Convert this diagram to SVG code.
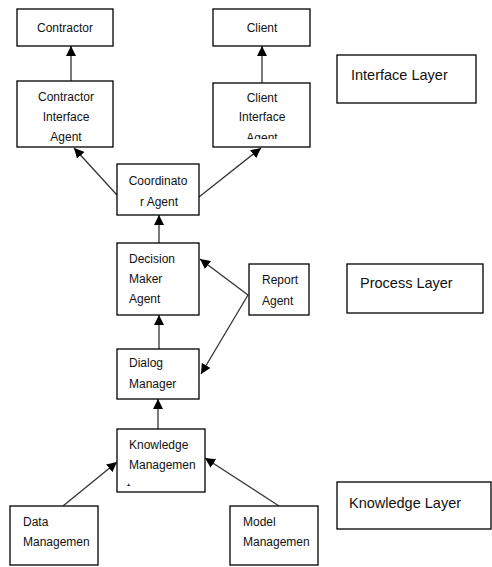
<svg xmlns="http://www.w3.org/2000/svg" width="492" height="567" viewBox="0 0 492 567">
  <style>
    .box { fill: #fff; stroke: #000; stroke-width: 1.3; }
    .t { font-family: "Liberation Sans", Arial, sans-serif; font-size: 12px; fill: #111; }
    .c { text-anchor: middle; }
    .layer { font-family: "Liberation Sans", Arial, sans-serif; font-size: 14.5px; fill: #111; }
    .edge { stroke: #333; stroke-width: 1.3; fill: none; marker-end: url(#arrow); }
  </style>
  <defs>
    <marker id="arrow" viewBox="0 0 10 10" refX="10" refY="5" markerWidth="10" markerHeight="10" markerUnits="userSpaceOnUse" orient="auto">
      <path d="M0,0 L10,5 L0,10 z" fill="#000"/>
    </marker>
    <clipPath id="clipClientIA"><rect x="213" y="83" width="97" height="56"/></clipPath>
    <clipPath id="clipKM"><rect x="117" y="429" width="88" height="57"/></clipPath>
  </defs>

  <rect width="492" height="567" fill="#fff"/>

  <!-- connectors -->
  <g id="connectors">
    <line class="edge" x1="71" y1="81" x2="71" y2="46"/>
    <line class="edge" x1="262" y1="83" x2="262" y2="46"/>
    <line class="edge" x1="117" y1="195" x2="74" y2="148"/>
    <line class="edge" x1="199" y1="197" x2="261" y2="148"/>
    <line class="edge" x1="159" y1="243" x2="159" y2="215"/>
    <line class="edge" x1="248" y1="295" x2="200" y2="259"/>
    <line class="edge" x1="248" y1="295" x2="201" y2="374"/>
    <line class="edge" x1="159" y1="349" x2="159" y2="315"/>
    <line class="edge" x1="158" y1="429" x2="158" y2="399"/>
    <line class="edge" x1="63" y1="506" x2="117" y2="462"/>
    <line class="edge" x1="279" y1="506" x2="205" y2="458"/>
  </g>

  <g id="contractor">
    <rect class="box" x="17" y="9" width="96" height="37"/>
    <text class="t c" x="65" y="32">Contractor</text>
  </g>

  <g id="client">
    <rect class="box" x="213" y="9" width="97" height="37"/>
    <text class="t c" x="262" y="32">Client</text>
  </g>

  <g id="contractor-interface-agent">
    <rect class="box" x="17" y="81" width="96" height="66"/>
    <text class="t c" x="66" y="101">Contractor</text>
    <text class="t c" x="66" y="121">Interface</text>
    <text class="t c" x="66" y="141">Agent</text>
  </g>

  <g id="client-interface-agent">
    <rect class="box" x="213" y="83" width="97" height="64"/>
    <g clip-path="url(#clipClientIA)">
      <text class="t c" x="262" y="102">Client</text>
      <text class="t c" x="262" y="121">Interface</text>
      <text class="t c" x="262" y="142">Agent</text>
    </g>
  </g>

  <g id="coordinator-agent">
    <rect class="box" x="117" y="164" width="82" height="51"/>
    <text class="t c" x="158" y="185">Coordinato</text>
    <text class="t c" x="159" y="206">r Agent</text>
  </g>

  <g id="decision-maker-agent">
    <rect class="box" x="117" y="243" width="82" height="72"/>
    <text class="t" x="129" y="263">Decision</text>
    <text class="t" x="129" y="283">Maker</text>
    <text class="t" x="129" y="303">Agent</text>
  </g>

  <g id="report-agent">
    <rect class="box" x="249" y="264" width="60" height="51"/>
    <text class="t" x="262" y="284">Report</text>
    <text class="t" x="262" y="305">Agent</text>
  </g>

  <g id="dialog-manager">
    <rect class="box" x="117" y="349" width="82" height="50"/>
    <text class="t" x="129" y="367">Dialog</text>
    <text class="t" x="129" y="388">Manager</text>
  </g>

  <g id="knowledge-management">
    <rect class="box" x="117" y="429" width="88" height="63"/>
    <g clip-path="url(#clipKM)">
      <text class="t" x="129" y="449">Knowledge</text>
      <text class="t" x="129" y="469">Managemen</text>
      <text class="t" x="127" y="492">t</text>
    </g>
  </g>

  <g id="data-management">
    <rect class="box" x="10" y="506" width="88" height="59"/>
    <text class="t" x="23" y="526">Data</text>
    <text class="t" x="23" y="546">Managemen</text>
  </g>

  <g id="model-management">
    <rect class="box" x="230" y="506" width="88" height="59"/>
    <text class="t" x="243" y="526">Model</text>
    <text class="t" x="243" y="546">Managemen</text>
  </g>

  <g id="interface-layer">
    <rect class="box" x="337" y="55" width="139" height="48"/>
    <text class="layer" x="351" y="80">Interface Layer</text>
  </g>

  <g id="process-layer">
    <rect class="box" x="347" y="264" width="136" height="49"/>
    <text class="layer" x="360" y="288">Process Layer</text>
  </g>

  <g id="knowledge-layer">
    <rect class="box" x="337" y="482" width="154" height="47"/>
    <text class="layer" x="349" y="508">Knowledge Layer</text>
  </g>
</svg>
